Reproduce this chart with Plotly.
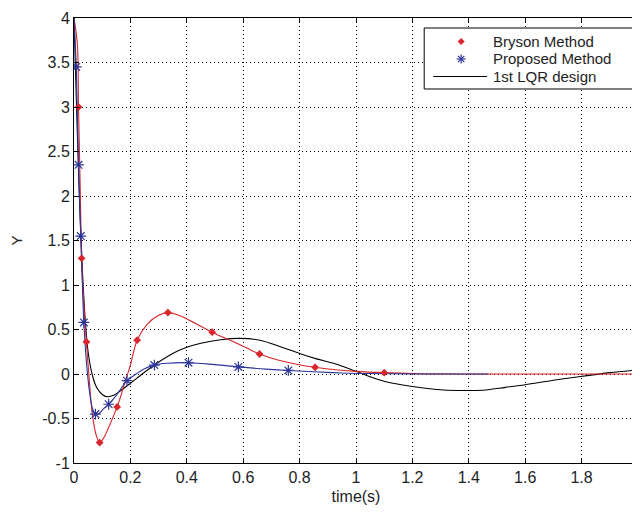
import plotly.graph_objects as go

# 1st LQR design (black line)
lqr_t = [0, 0.01, 0.02, 0.03, 0.04, 0.05, 0.064, 0.08, 0.1, 0.118, 0.14, 0.16, 0.2, 0.25,
         0.294, 0.35, 0.4, 0.45, 0.52, 0.589, 0.66, 0.73, 0.8, 0.86, 0.92, 1.0, 1.05, 1.11,
         1.2, 1.31, 1.4, 1.46, 1.53, 1.6, 1.7, 1.79, 1.84, 1.9, 2.0]
lqr_y = [4.0, 2.9, 1.9, 1.15, 0.6, 0.25, 0.0, -0.15, -0.23, -0.255, -0.24, -0.2, -0.105, 0.02,
         0.12, 0.23, 0.30, 0.345, 0.385, 0.40, 0.38, 0.31, 0.23, 0.17, 0.12, 0.03, -0.03, -0.09,
         -0.14, -0.18, -0.185, -0.18, -0.15, -0.12, -0.07, -0.03, -0.01, 0.015, 0.045]

# Bryson Method (red)
bryson_t = [0, 0.012, 0.016, 0.022, 0.027, 0.032, 0.038, 0.044, 0.055, 0.065, 0.078, 0.091,
            0.105, 0.12, 0.153, 0.18, 0.2, 0.224, 0.26, 0.3, 0.333, 0.38, 0.43, 0.49, 0.56,
            0.62, 0.658, 0.72, 0.79, 0.855, 0.92, 1.0, 1.1, 1.2, 1.4, 1.6, 2.0]
bryson_y = [4.0, 3.7, 3.0, 2.1, 1.3, 0.95, 0.62, 0.36, -0.1, -0.45, -0.68, -0.77,
            -0.72, -0.62, -0.37, -0.1, 0.1, 0.38, 0.56, 0.66, 0.69, 0.65, 0.57, 0.47, 0.37,
            0.28, 0.225, 0.16, 0.11, 0.075, 0.05, 0.03, 0.015, 0.005, 0.0, 0.0, 0.0]
bryson_mk_t = [0.016, 0.027, 0.044, 0.091, 0.153, 0.224, 0.333, 0.49, 0.658, 0.855, 1.1]
bryson_mk_y = [3.0, 1.3, 0.36, -0.77, -0.37, 0.38, 0.69, 0.47, 0.225, 0.075, 0.015]

# Proposed Method (blue)
prop_t = [0, 0.008, 0.016, 0.024, 0.035, 0.045, 0.055, 0.065, 0.076, 0.09, 0.105, 0.123,
          0.15, 0.188, 0.22, 0.25, 0.285, 0.33, 0.406, 0.5, 0.583, 0.68, 0.76, 0.85, 0.95,
          1.05, 1.2, 1.47]
prop_y = [4.0, 3.45, 2.35, 1.55, 0.58, 0.1, -0.2, -0.38, -0.45, -0.44, -0.39, -0.34,
          -0.24, -0.075, 0.0, 0.06, 0.10, 0.12, 0.127, 0.105, 0.08, 0.055, 0.04, 0.025, 0.012,
          0.005, 0.0, 0.0]
prop_mk_t = [0.008, 0.016, 0.024, 0.035, 0.076, 0.123, 0.188, 0.285, 0.406, 0.583, 0.76]
prop_mk_y = [3.45, 2.35, 1.55, 0.58, -0.45, -0.34, -0.075, 0.10, 0.127, 0.08, 0.04]

series_names = ["Bryson Method", "Proposed Method", "1st LQR design"]

x_ticks = [0, 0.2, 0.4, 0.6, 0.8, 1, 1.2, 1.4, 1.6, 1.8, 2]
x_labels = ["0", "0.2", "0.4", "0.6", "0.8", "1", "1.2", "1.4", "1.6", "1.8", "2"]
y_ticks = [-1, -0.5, 0, 0.5, 1, 1.5, 2, 2.5, 3, 3.5, 4]
y_labels = ["-1", "-0.5", "0", "0.5", "1", "1.5", "2", "2.5", "3", "3.5", "4"]

RED = "#d8262b"
BLUE = "#2c3598"
FONT = "Liberation Sans, Arial"
TXT = "#1e1e1e"

W, H = 632, 505
ML, MR, MT, MB = 65.5, 2, 10, 50
PW, PH = W - ML - MR, H - MT - MB


def px(xp):
    return (xp - ML) / PW


def py(yp):
    return (H - MB - yp) / PH


fig = go.Figure()
fig.add_trace(go.Scatter(x=lqr_t, y=lqr_y, mode="lines", line=dict(color="black", width=1.1),
                         line_shape="spline", name=series_names[2], showlegend=False))
fig.add_trace(go.Scatter(x=bryson_t, y=bryson_y, mode="lines", line=dict(color=RED, width=1.1),
                         line_shape="spline", name=series_names[0], showlegend=False))
fig.add_trace(go.Scatter(x=prop_t, y=prop_y, mode="lines", line=dict(color=BLUE, width=1.1),
                         line_shape="spline", name=series_names[1], showlegend=False))
fig.add_trace(go.Scatter(x=bryson_mk_t, y=bryson_mk_y, mode="markers", name=series_names[0],
                         marker=dict(symbol="diamond", size=6, color=RED), showlegend=False))
fig.add_trace(go.Scatter(x=prop_mk_t, y=prop_mk_y, mode="markers", name=series_names[1],
                         marker=dict(symbol="asterisk-open", size=9, color=BLUE,
                                     line=dict(color=BLUE, width=1.2)), showlegend=False))

axis_common = dict(showline=True, linecolor="black", linewidth=1, mirror="ticks",
                   ticks="inside", ticklen=5, tickcolor="black",
                   showgrid=True, gridcolor="black", gridwidth=1, griddash="1px,3px",
                   zeroline=False, tickfont=dict(family=FONT, size=16, color=TXT))

fig.update_xaxes(range=[0, 2], tickvals=x_ticks, ticktext=x_labels,
                 title=dict(text="time(s)", font=dict(family=FONT, size=16, color=TXT),
                            standoff=5), **axis_common)
fig.update_yaxes(range=[-1, 4], tickvals=y_ticks, ticktext=y_labels,
                 title=dict(text="Y", font=dict(family=FONT, size=15, color=TXT),
                            standoff=16), **axis_common)

# legend box (drawn like the MATLAB legend)
shapes = []
annotations = []
box_l, box_r, box_t, box_b = 416, 627, 20, 81
shapes.append(dict(type="rect", xref="paper", yref="paper",
                   x0=px(box_l), x1=px(box_r), y0=py(box_b), y1=py(box_t),
                   line=dict(color="black", width=1), fillcolor="white", layer="above"))
rows = [33.5, 51.0, 68.5]
sym_x = 453
text_x = 484
# diamond symbol
dr = 3.2
r0 = rows[0]
shapes.append(dict(type="path", xref="paper", yref="paper", layer="above",
                   path=f"M {px(sym_x)},{py(r0 - dr)} L {px(sym_x + dr)},{py(r0)} "
                        f"L {px(sym_x)},{py(r0 + dr)} L {px(sym_x - dr)},{py(r0)} Z",
                   fillcolor=RED, line=dict(color=RED, width=0.5)))
# asterisk symbol
ar = 4.5
r1 = rows[1]
d = ar * 0.707
for (dx, dy) in [(0, ar), (ar, 0), (d, d), (d, -d)]:
    shapes.append(dict(type="line", xref="paper", yref="paper", layer="above",
                       x0=px(sym_x - dx), y0=py(r1 - dy), x1=px(sym_x + dx), y1=py(r1 + dy),
                       line=dict(color=BLUE, width=1.2)))
# line symbol
shapes.append(dict(type="line", xref="paper", yref="paper", layer="above",
                   x0=px(425), x1=px(479), y0=py(rows[2]), y1=py(rows[2]),
                   line=dict(color="black", width=1.2)))
for name, r in zip(series_names, rows):
    annotations.append(dict(text=name, xref="paper", yref="paper", x=px(text_x), y=py(r),
                            xanchor="left", yanchor="middle", showarrow=False, borderpad=0,
                            font=dict(family=FONT, size=15, color=TXT)))

fig.update_layout(
    width=W, height=H,
    margin=dict(l=ML, r=MR, t=MT, b=MB, autoexpand=False),
    paper_bgcolor="white", plot_bgcolor="white",
    showlegend=False,
    shapes=shapes, annotations=annotations,
)

fig.write_html("out.html")
